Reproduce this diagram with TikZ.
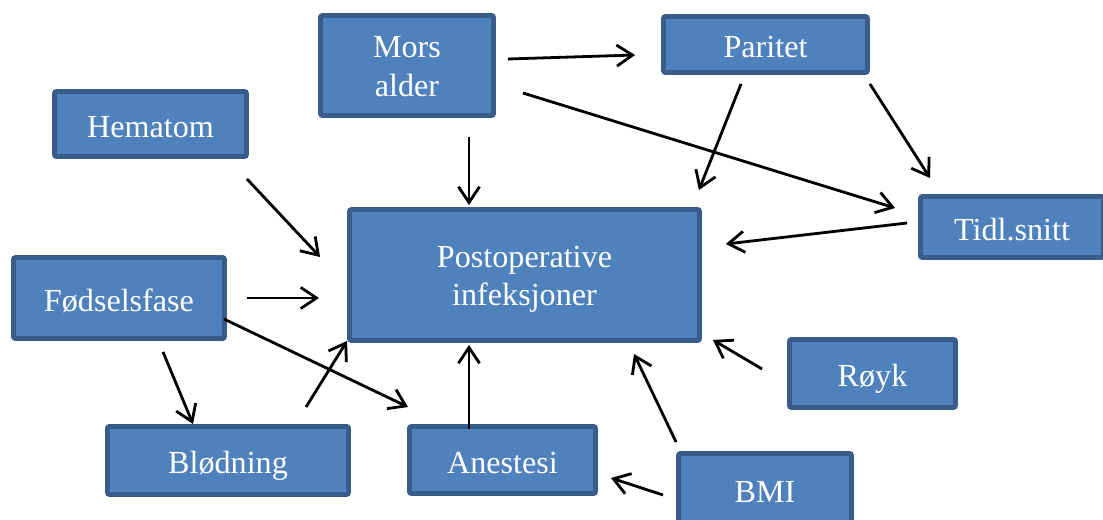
\documentclass[tikz,border=0pt]{standalone}
\usepackage{fontspec}
\setmainfont{Liberation Serif}
\usepackage{tikz}
\usetikzlibrary{calc, arrows.meta, positioning}
\definecolor{boxfill}{HTML}{4F81BD}
\definecolor{boxline}{HTML}{385D8A}
\tikzset{
  factor/.style={draw=boxline, fill=boxfill, line width=2.8pt, rounded corners=1.2pt,
    text=white, align=center, inner sep=0pt, font=\fontsize{18.3}{22}\selectfont,
    text height=15.1pt, text depth=0pt},
  twoline/.style={text height=35.2pt, text depth=0pt},
  effect/.style={line width=1.6pt, -{Straight Barb[length=9pt, width=12pt]}}
}

\begin{document}
\begin{tikzpicture}[x=.02cm, y=-.02cm]
      \useasboundingbox (0,0) rectangle (1103,520);
      \clip (0,0) rectangle (1103,520);
      \node[factor, twoline, minimum width=3.46cm, minimum height=2.00cm] (mors) at (407, 65.5) {Mors\\alder};
      \node[factor, minimum width=4.08cm, minimum height=1.12cm] (paritet) at (765.5, 44.5) {Paritet};
      \node[factor, minimum width=3.84cm, minimum height=1.30cm] (hematom) at (150.5, 124) {Hematom};
      \node[factor, twoline, minimum width=7.00cm, minimum height=2.62cm] (postop) at (524.5, 275) {Postoperative\\infeksjoner};
      \node[factor, minimum width=3.66cm, minimum height=1.22cm] (tidl) at (1012, 227) {Tidl.snitt};
      \node[factor, minimum width=4.22cm, minimum height=1.62cm] (fodsel) at (119, 298) {Fødselsfase};
      \node[factor, minimum width=4.82cm, minimum height=1.36cm] (blodning) at (228, 460.5) {Blødning};
      \node[factor, minimum width=3.72cm, minimum height=1.34cm] (anestesi) at (502.5, 460) {Anestesi};
      \node[factor, minimum width=3.32cm, minimum height=1.36cm] (royk) at (872.5, 373.5) {Røyk};
      \node[factor, minimum width=3.46cm, minimum height=1.44cm] (bmi) at (765, 489.5) {BMI};
      \draw[effect] ([shift={(12,-6.5)}]mors.east) -- ([shift={(-26,10.5)}]paritet.west);
      \draw[effect] ([shift={(27,27.5)}]mors.east) -- ([shift={(-23,-19)}]tidl.west);
      \draw[effect] ([shift={(62,19)}]mors.south) -- ([shift={(-55.5,-2)}]postop.north);
      \draw[effect] ([shift={(-24.5,9)}]paritet.south) -- ([shift={(-3,-17)}]postop.north east);
      \draw[effect] ([shift={(0,9)}]paritet.south east) -- ([shift={(12,-16)}]tidl.north west);
      \draw[effect] ([shift={(-11,-4)}]tidl.west) -- ([shift={(24,-31)}]postop.east);
      \draw[effect] ([shift={(-2,20)}]hematom.south east) -- ([shift={(-27,-18)}]postop.west);
      \draw[effect] ([shift={(20,0)}]fodsel.east) -- ([shift={(-28,23)}]postop.west);
      \draw[effect] ([shift={(-3,21)}]fodsel.east) -- ([shift={(1,-17)}]anestesi.north west);
      \draw[effect] ([shift={(44,11)}]fodsel.south) -- ([shift={(-35,0)}]blodning.north);
      \draw[effect] ([shift={(78,-17)}]blodning.north) -- ([shift={(0,-2)}]postop.south west);
      \draw[effect] ([shift={(-33.5,5)}]anestesi.north) -- ([shift={(-55.5,2)}]postop.south);
      \draw[effect] ([shift={(-25,-4.5)}]royk.west) -- ([shift={(11,-3)}]postop.south east);
      \draw[effect] ([shift={(0,-9)}]bmi.north west) -- ([shift={(109.5,11)}]postop.south);
      \draw[effect] ([shift={(-13,5.5)}]bmi.west) -- ([shift={(13,18)}]anestesi.east);
    \end{tikzpicture}
\end{document}
